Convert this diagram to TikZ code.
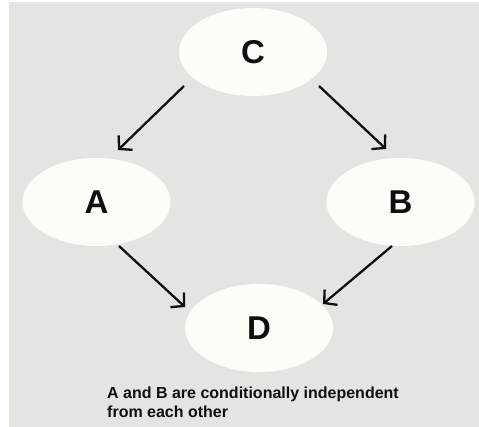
\documentclass[tikz,border=0pt]{standalone}
\usepackage{fontspec}
\setmainfont{Liberation Sans}
\usetikzlibrary{arrows.meta,calc,shapes.geometric}
\definecolor{bggray}{RGB}{228,228,225}
\definecolor{nodefill}{RGB}{253,253,248}
\definecolor{inkcol}{RGB}{15,15,15}
\newcommand{\lowlabel}[1]{\raisebox{-2.5pt}{#1}}
\tikzset{
  varnode/.style={ellipse, fill=nodefill, draw=none, minimum width=148pt, minimum height=88pt, inner sep=0pt, font=\fontsize{33}{33}\selectfont\bfseries, text=inkcol},
  arr/.style={line width=2.3pt, draw=inkcol, -{Straight Barb[length=9pt,width=20pt,line width=2.3pt]}},
  captiontext/.style={font=\fontsize{16}{18.5}\selectfont\bfseries, text=inkcol, align=left, inner sep=0pt, anchor=north west}
}
\begin{document}
\begin{tikzpicture}[x=1pt,y=-1pt]
\useasboundingbox (0,0) rectangle (479,427);
\fill[white] (0,0) rectangle (479,427);
\fill[bggray] (9,2) rectangle (479,427);
\node[varnode] (C) at (253,52) {\lowlabel{C}};
\node[varnode] (A) at (96.5,202) {\lowlabel{A}};
\node[varnode] (B) at (400.5,202) {\lowlabel{B}};
\node[varnode] (D) at (259,328) {\lowlabel{D}};
\draw[arr] ($(C)+(-69,34)$) -- ($(A)+(21.5,-52)$);
\draw[arr] ($(C)+(66,34)$) -- ($(B)+(-14.5,-53)$);
\draw[arr] ($(A)+(22.5,44)$) -- ($(D)+(-74,-21)$);
\draw[arr] ($(B)+(-8.5,44)$) -- ($(D)+(64,-24)$);
\node[captiontext] (cap) at (107,387) {A and B are conditionally independent\\from each other};
\end{tikzpicture}
\end{document}
